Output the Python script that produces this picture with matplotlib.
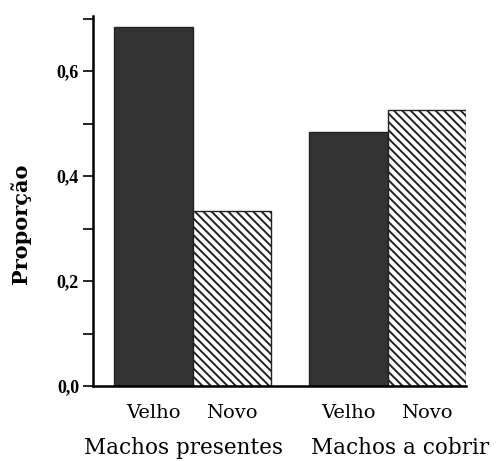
import matplotlib.pyplot as plt
from matplotlib.ticker import MultipleLocator, FuncFormatter

plt.rcParams['hatch.linewidth'] = 1.4

grupos = ["Machos presentes", "Machos a cobrir"]
categorias = ["Velho", "Novo", "Velho", "Novo"]
proporcoes = [0.684, 0.333, 0.484, 0.526]
posicoes = [0, 1, 2.49, 3.49]
cores = ["#333333", "white", "#333333", "white"]
hachuras = [None, "\\\\\\\\", None, "\\\\\\\\"]

fig = plt.figure(figsize=(5.02, 4.61), dpi=100)
ax = fig.add_axes([93 / 502, 1 - 386 / 461, (466 - 93) / 502, (386 - 16) / 461])

for x, v, c, h in zip(posicoes, proporcoes, cores, hachuras):
  ax.bar(x, v, width=1.0, color=c, edgecolor="#222222", linewidth=1.0, hatch=h)

ax.set_xlim(-0.77, 3.99)
ax.set_ylim(0, 0.705)

ax.spines['top'].set_visible(False)
ax.spines['right'].set_visible(False)
ax.spines['left'].set_linewidth(1.8)
ax.spines['bottom'].set_linewidth(1.8)

ax.yaxis.set_major_locator(MultipleLocator(0.2))
ax.yaxis.set_minor_locator(MultipleLocator(0.1))
ax.yaxis.set_major_formatter(FuncFormatter(lambda v, p: f"{v:.1f}".replace(".", ",")))
ax.tick_params(axis='y', which='both', direction='out', length=7, width=1.2)
ax.tick_params(axis='y', which='major', labelsize=13, pad=3)
for lbl in ax.get_yticklabels():
  lbl.set_fontfamily("Liberation Serif")
  lbl.set_fontweight("bold")

ax.set_xticks(posicoes)
ax.set_xticklabels(categorias, fontfamily="DejaVu Serif", fontsize=14)
ax.tick_params(axis='x', length=0, pad=13)

ax.set_ylabel("Proporção", fontfamily="DejaVu Serif", fontweight="bold", fontsize=15)
ax.yaxis.set_label_coords(-0.166, 0.438)

# os rótulos dos grupos não ficam exatamente centrados nas barras
centros = [0.39, 3.15]
for cx, g in zip(centros, grupos):
  ax.text(cx, -0.168, g, transform=ax.get_xaxis_transform(), ha="center", va="center",
          fontfamily="DejaVu Serif", fontsize=15.5)

fig.savefig("out.png", dpi=100)
